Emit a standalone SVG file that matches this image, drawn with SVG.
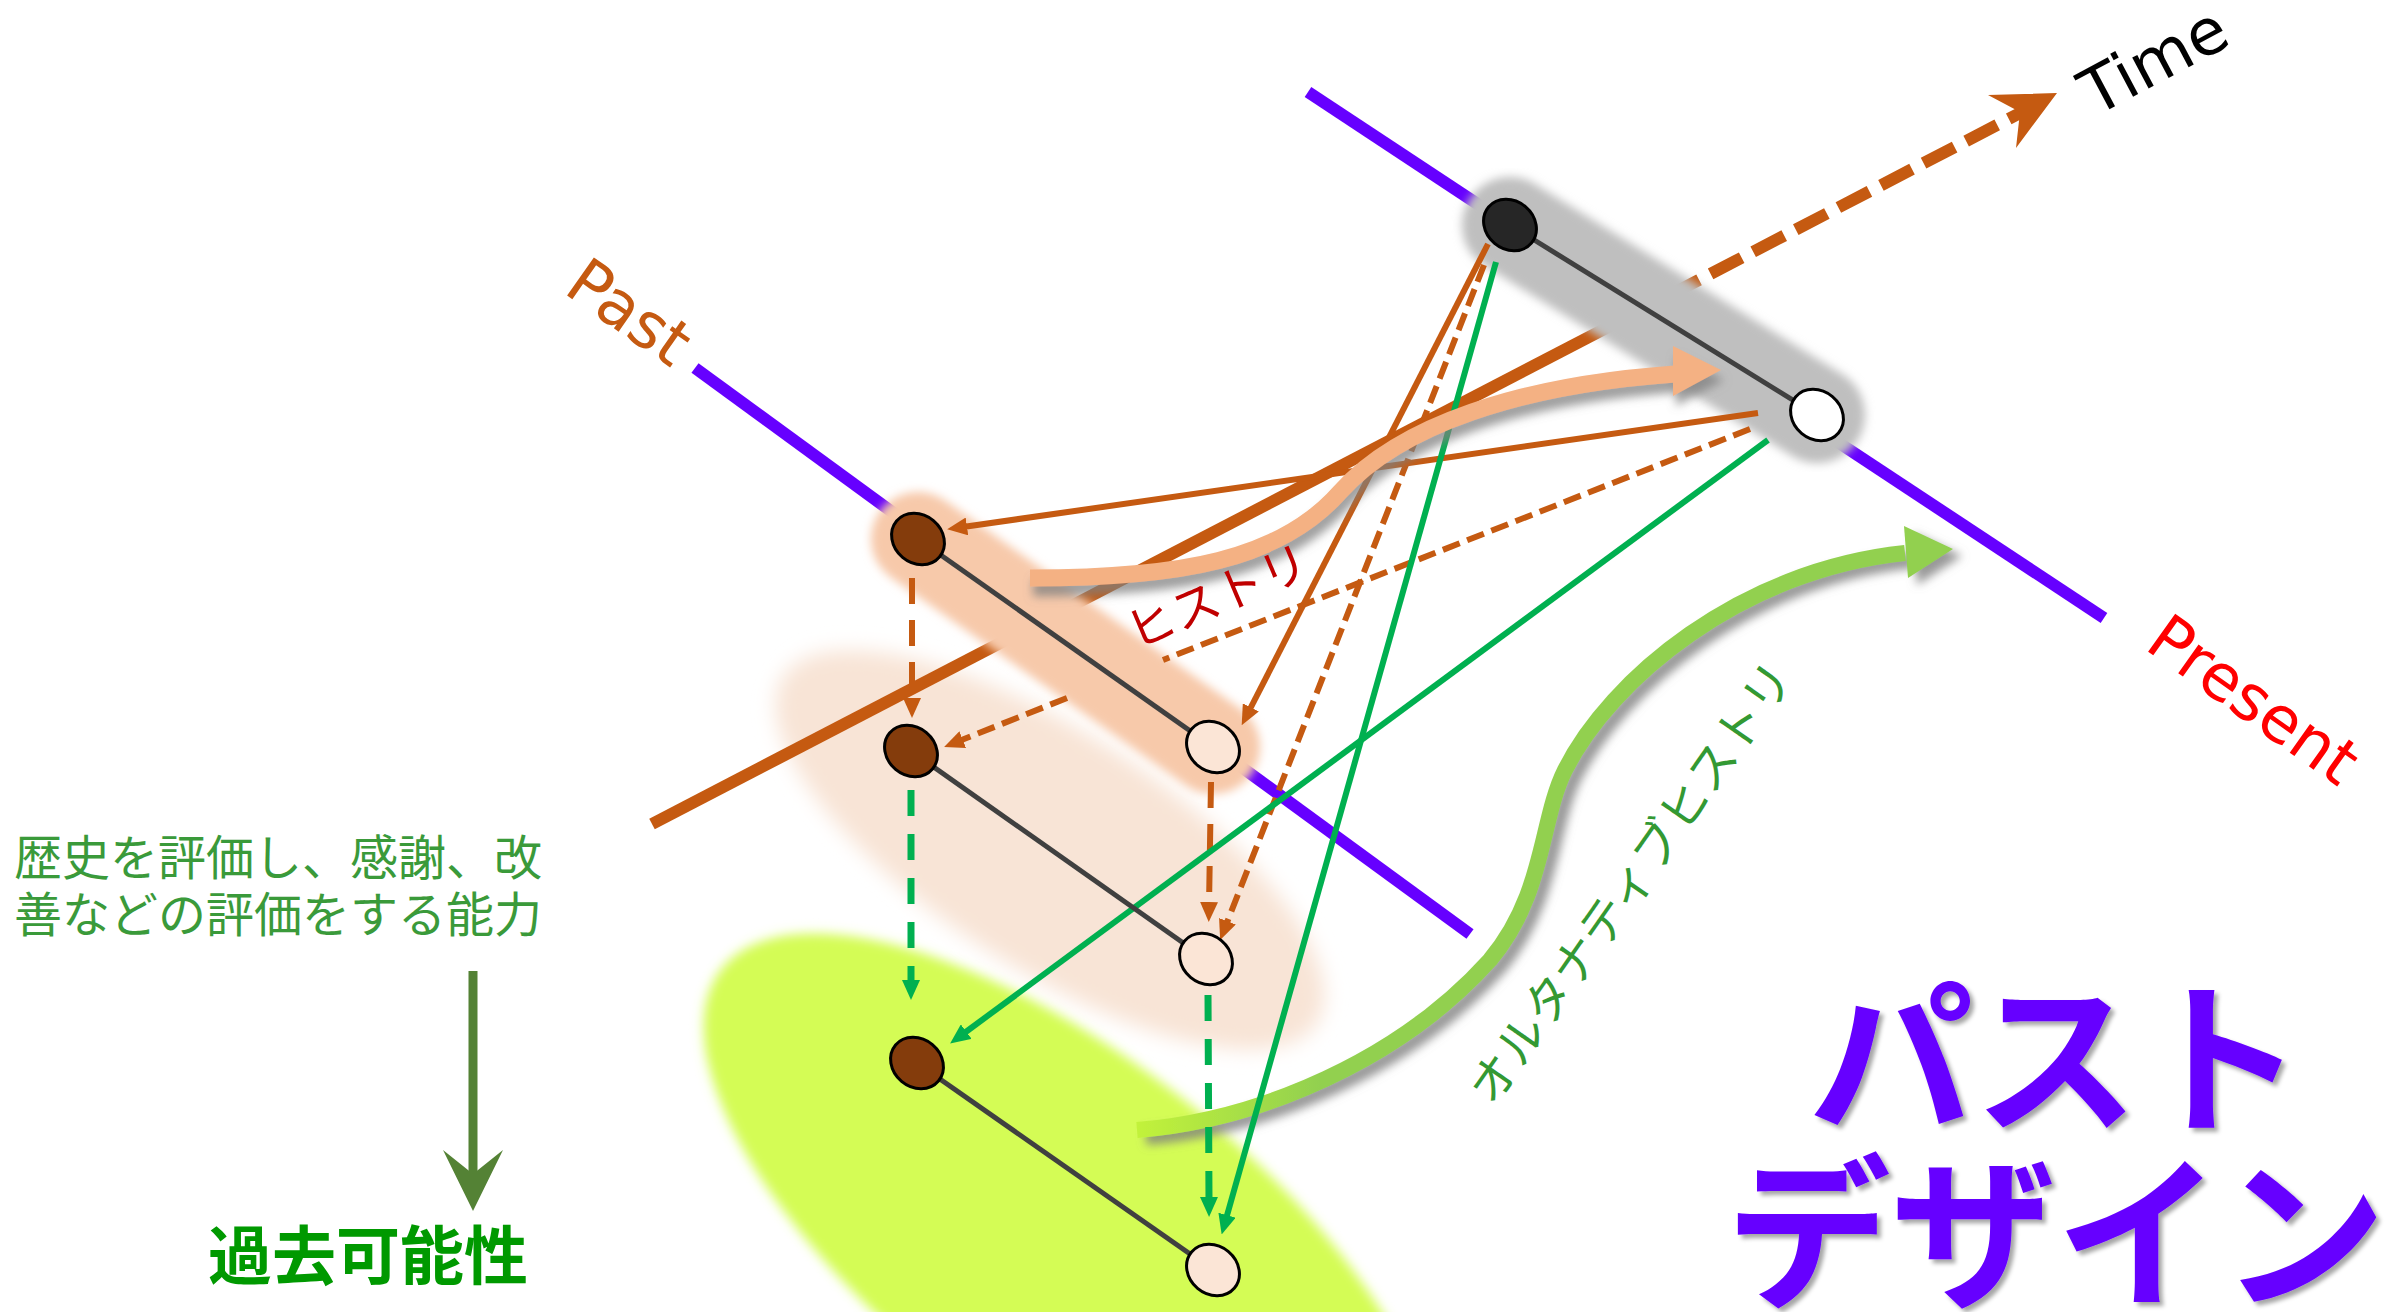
<svg xmlns="http://www.w3.org/2000/svg" width="2394" height="1312" viewBox="0 0 2394 1312">
<defs>
<style>
.axis{stroke:#6600ff;stroke-width:12;fill:none}
.time{stroke:#c55a11;stroke-width:12;fill:none}
.oc{stroke:#c55a11;stroke-width:6;fill:none}
.od{stroke:#c55a11;stroke-width:6;fill:none;stroke-dasharray:18 8}
.ov{stroke:#c55a11;stroke-width:6;fill:none;stroke-dasharray:26 16}
.gc{stroke:#00b050;stroke-width:6;fill:none}
.gv{stroke:#00b050;stroke-width:7;fill:none;stroke-dasharray:26 18}
.link{stroke:#404040;stroke-width:5}
.brown{fill:#843c0c;stroke:#000;stroke-width:3}
.light{fill:#fbe5d6;stroke:#000;stroke-width:3}
.lat{font-family:"DejaVu Sans",Verdana,sans-serif;font-size:64px}
.jp{font-family:"Noto Sans CJK JP","Noto Sans",sans-serif}
</style>
<filter id="blurL" x="-30%" y="-30%" width="160%" height="160%"><feGaussianBlur stdDeviation="10"/></filter>
<filter id="blurB" x="-30%" y="-30%" width="160%" height="160%"><feGaussianBlur stdDeviation="6"/></filter>
<filter id="blurS" x="-30%" y="-30%" width="160%" height="160%"><feGaussianBlur stdDeviation="5"/></filter>
<filter id="shadow" x="-20%" y="-20%" width="140%" height="150%">
<feGaussianBlur in="SourceAlpha" stdDeviation="5"/>
<feOffset dx="3" dy="10" result="o"/>
<feFlood flood-color="#7f7f7f" flood-opacity="0.75"/>
<feComposite in2="o" operator="in"/>
<feMerge><feMergeNode/><feMergeNode in="SourceGraphic"/></feMerge>
</filter>
<filter id="shadowG" x="-20%" y="-20%" width="140%" height="150%">
<feGaussianBlur in="SourceAlpha" stdDeviation="5"/>
<feOffset dx="9" dy="7" result="o"/>
<feFlood flood-color="#7f7f7f" flood-opacity="0.8"/>
<feComposite in2="o" operator="in"/>
<feMerge><feMergeNode/><feMergeNode in="SourceGraphic"/></feMerge>
</filter>
<filter id="tshadow" x="-10%" y="-10%" width="120%" height="130%">
<feGaussianBlur in="SourceAlpha" stdDeviation="2"/>
<feOffset dx="4" dy="4" result="o"/>
<feFlood flood-color="#000" flood-opacity="0.35"/>
<feComposite in2="o" operator="in"/>
<feMerge><feMergeNode/><feMergeNode in="SourceGraphic"/></feMerge>
</filter>
<linearGradient id="gcurve" gradientUnits="userSpaceOnUse" x1="1137" y1="0" x2="1320" y2="0">
<stop offset="0" stop-color="#c2f23a"/><stop offset="1" stop-color="#92d050"/>
</linearGradient>
<marker id="aO" viewBox="0 0 20 18" refX="4" refY="9" markerWidth="20" markerHeight="18" markerUnits="userSpaceOnUse" orient="auto"><path d="M0,0L20,9L0,18z" fill="#c55a11"/></marker>
<marker id="aG" viewBox="0 0 20 18" refX="4" refY="9" markerWidth="20" markerHeight="18" markerUnits="userSpaceOnUse" orient="auto"><path d="M0,0L20,9L0,18z" fill="#00b050"/></marker>
</defs>

<rect width="2394" height="1312" fill="#ffffff"/>

<g id="background">
<ellipse cx="1050" cy="850" rx="318" ry="118" transform="rotate(33 1050 850)" fill="#f8e4d6" filter="url(#blurL)"/>
<ellipse cx="1068" cy="1240" rx="440" ry="182" transform="rotate(38 1068 1240)" fill="#d4fc54" filter="url(#blurB)"/>
</g>

<g id="axes">
<line class="axis" x1="1308" y1="92" x2="2104" y2="618"/>
<line class="axis" x1="695" y1="368" x2="1470" y2="934"/>
<line class="time" x1="652" y1="824" x2="1668" y2="296"/>
<line class="time" x1="1668" y1="296" x2="2024" y2="111" stroke-dasharray="35 13"/>
<path d="M2057,93 L1988,95 L2020,112 L2016,148 Z" fill="#c55a11"/>
</g>

<g id="bands">
<line x1="918" y1="539" x2="1213" y2="747" stroke="#f7c9aa" stroke-width="94" stroke-linecap="round" filter="url(#blurS)"/>
<line x1="1510" y1="225" x2="1817" y2="415" stroke="#bfbfbf" stroke-width="96" stroke-linecap="round" filter="url(#blurS)"/>
</g>

<g id="alternative-curve" filter="url(#shadowG)">
<path d="M1137,1130 C1260,1120 1400,1060 1490,960 C1545,895 1540,820 1565,770 C1610,680 1740,570 1905,553" fill="none" stroke="url(#gcurve)" stroke-width="16"/>
<path d="M1953,549 L1904,526 L1908,578 Z" fill="#92d050"/>
</g>

<g id="connectors">
<path class="od" d="M1750,429 L1163,660 M1067,698 L959,741" marker-end="url(#aO)"/>
<line class="oc" x1="1758" y1="413" x2="963" y2="527" marker-end="url(#aO)"/>
<line class="oc" x1="1488" y1="244" x2="1249" y2="711" marker-end="url(#aO)"/>
<line class="od" x1="1484" y1="265" x2="1226" y2="925" marker-end="url(#aO)"/>
<line class="ov" x1="912" y1="578" x2="912" y2="702" marker-end="url(#aO)"/>
<line class="ov" x1="1211" y1="782" x2="1209" y2="906" marker-end="url(#aO)"/>
<line class="gv" x1="911" y1="790" x2="911" y2="984" marker-end="url(#aG)"/>
<line class="gv" x1="1208" y1="995" x2="1209" y2="1201" marker-end="url(#aG)"/>
<line class="gc" x1="1496" y1="262" x2="1226" y2="1219" marker-end="url(#aG)"/>
<line class="gc" x1="1768" y1="440" x2="963" y2="1034" marker-end="url(#aG)"/>
<line class="link" x1="1510" y1="225" x2="1817" y2="415"/>
<line class="link" x1="918" y1="539" x2="1213" y2="747"/>
<line class="link" x1="911" y1="751" x2="1206" y2="959"/>
<line class="link" x1="917" y1="1063" x2="1213" y2="1270"/>
</g>

<g id="history-curve" filter="url(#shadow)">
<path d="M1030,578 C1180,578 1280,560 1340,492 C1400,425 1520,385 1675,374" fill="none" stroke="#f4b183" stroke-width="17"/>
<path d="M1721,370 L1673,346 L1673,396 Z" fill="#f4b183"/>
</g>

<g id="node-now-black"><ellipse cx="1510" cy="225" rx="28" ry="24" transform="rotate(40 1510 225)" fill="#262626" stroke="#000" stroke-width="3"/></g>
<g id="node-now-white"><ellipse cx="1817" cy="415" rx="28" ry="24" transform="rotate(40 1817 415)" fill="#ffffff" stroke="#000" stroke-width="3"/></g>
<g id="node-past1-brown"><ellipse class="brown" cx="918" cy="539" rx="28" ry="24" transform="rotate(40 918 539)"/></g>
<g id="node-past1-light"><ellipse class="light" cx="1213" cy="747" rx="28" ry="24" transform="rotate(40 1213 747)"/></g>
<g id="node-past2-brown"><ellipse class="brown" cx="911" cy="751" rx="28" ry="24" transform="rotate(40 911 751)"/></g>
<g id="node-past2-light"><ellipse class="light" cx="1206" cy="959" rx="28" ry="24" transform="rotate(40 1206 959)"/></g>
<g id="node-past3-brown"><ellipse class="brown" cx="917" cy="1063" rx="28" ry="24" transform="rotate(40 917 1063)"/></g>
<g id="node-past3-light"><ellipse class="light" cx="1213" cy="1270" rx="28" ry="24" transform="rotate(40 1213 1270)"/></g>

<g id="labels">
<text class="lat" x="2095" y="117" transform="rotate(-28 2095 117)" fill="#000">Time</text>
<text class="lat" x="562" y="292" transform="rotate(35 562 292)" fill="#c55a11">Past</text>
<text class="lat" x="2143" y="648" transform="rotate(35.5 2143 648)" fill="#ff0000">Present</text>
<text class="jp" x="1136" y="650" font-size="48" transform="rotate(-23 1136 650)" fill="#c00000">ヒストリ</text>
<text class="jp" x="1494" y="1108" font-size="48" transform="rotate(-55 1494 1108)" fill="#339933">オルタナティブヒストリ</text>
<text class="jp" x="14" y="875" font-size="48" fill="#3a9a3a">歴史を評価し、感謝、改</text>
<text class="jp" x="14" y="932" font-size="48" fill="#3a9a3a">善などの評価をする能力</text>
<text class="jp" x="208" y="1279" font-size="64" font-weight="700" fill="#009900">過去可能性</text>
<g filter="url(#tshadow)">
<text class="jp" x="2056" y="1120" font-size="165" font-weight="700" text-anchor="middle" fill="#6600ff">パスト</text>
<text class="jp" x="2056" y="1295" font-size="165" font-weight="700" text-anchor="middle" fill="#6600ff">デザイン</text>
</g>
</g>

<g id="down-arrow">
<line x1="473" y1="971" x2="473" y2="1180" stroke="#548235" stroke-width="9"/>
<path d="M473,1211 L443,1150 L473,1174 L503,1150 Z" fill="#548235"/>
</g>
</svg>
